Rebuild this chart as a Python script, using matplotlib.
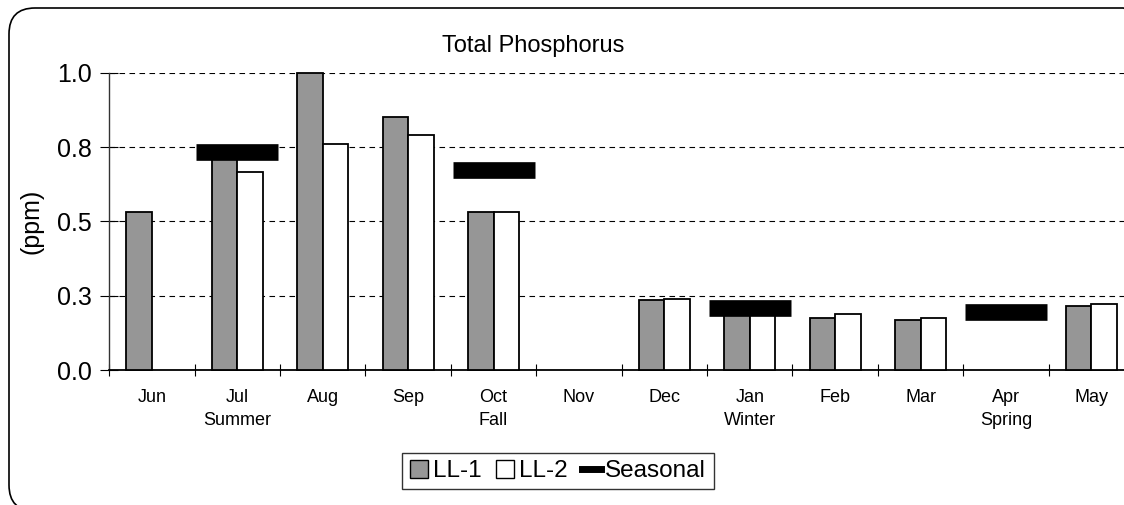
import numpy as np
import matplotlib
matplotlib.use("Agg")
import matplotlib.pyplot as plt
from matplotlib.patches import Patch, FancyBboxPatch
from matplotlib.lines import Line2D
from matplotlib.transforms import IdentityTransform

plt.rcParams['font.family'] = ['Liberation Sans', 'DejaVu Sans']

# --- data ---
months = ['Jun', 'Jul', 'Aug', 'Sep', 'Oct', 'Nov', 'Dec', 'Jan', 'Feb', 'Mar', 'Apr', 'May']
seasons = ['', 'Summer', '', '', 'Fall', '', '', 'Winter', '', '', 'Spring', '']
ll1 = [0.53, 0.75, 1.00, 0.85, 0.53, np.nan, 0.235, 0.20, 0.175, 0.168, np.nan, 0.215]
ll2 = [np.nan, 0.665, 0.76, 0.79, 0.53, np.nan, 0.24, 0.20, 0.19, 0.175, np.nan, 0.222]
seasonal = [np.nan, 0.733, np.nan, np.nan, 0.672, np.nan, np.nan, 0.207, np.nan, np.nan, 0.194, np.nan]
yticks = [0.0, 0.25, 0.5, 0.75, 1.0]
ytick_labels = ['0.0', '0.3', '0.5', '0.8', '1.0']

W, H = 1124, 505
fig = plt.figure(figsize=(W / 100, H / 100), dpi=100)
# plot area runs past the right edge, like the cropped original
ax = fig.add_axes([109.3 / W, 1 - 370 / H, 1024.7 / W, 297.3 / H])

x = np.arange(len(months))
ax.bar(x - 0.15, ll1, width=0.3, color='#969696', edgecolor='black', linewidth=1.3, zorder=3, clip_on=False)
ax.bar(x + 0.15, ll2, width=0.3, color='white', edgecolor='black', linewidth=1.3, zorder=3, clip_on=False)
ax.hlines(seasonal, x - 0.48, x + 0.48, color='black', linewidth=12, zorder=4)

ax.set_xlim(-0.5, len(months) - 0.5)
ax.set_ylim(0, 1.0)

ax.set_yticks(yticks)
ax.set_yticklabels(ytick_labels, fontsize=18)
ax.tick_params(axis='y', direction='inout', length=13, width=0.8, pad=6)
ax.grid(axis='y', color='black', linestyle=(0, (5, 4)), linewidth=0.8, zorder=1)

# category boundaries as major ticks, labels on minor ticks
ax.set_xticks(np.arange(-0.5, len(months), 1.0))
ax.set_xticklabels([])
ax.tick_params(axis='x', which='major', direction='inout', length=9, width=0.8)
ax.set_xticks(x, minor=True)
ax.set_xticklabels([m if not s else m + '\n' + s for m, s in zip(months, seasons)],
                   minor=True, fontsize=13, linespacing=1.45)
ax.tick_params(axis='x', which='minor', length=0, pad=14)

for side in ['top', 'right']:
    ax.spines[side].set_visible(False)
ax.spines['left'].set_color('#333333')
ax.spines['left'].set_linewidth(1.0)
ax.spines['bottom'].set_linewidth(1.3)

ax.set_ylabel('(ppm)', fontsize=18)
ax.yaxis.set_label_coords(-0.0645, 0.5)

fig.text(533 / W, 1 - 46 / H, 'Total Phosphorus', fontsize=17, ha='center', va='center')

handles = [Patch(facecolor='#969696', edgecolor='black', linewidth=1.0),
           Patch(facecolor='white', edgecolor='black', linewidth=1.0),
           Line2D([], [], color='black', linewidth=5)]
leg = fig.legend(handles, ['LL-1', 'LL-2', 'Seasonal'], loc='center', bbox_to_anchor=(558 / W, 1 - 471 / H),
                 ncol=3, fontsize=17.5, frameon=True, fancybox=False, handlelength=0.75, handleheight=0.75,
                 handletextpad=0.2, columnspacing=0.6, borderpad=0.3, borderaxespad=0)
leg.get_frame().set_edgecolor('black')
leg.get_frame().set_linewidth(1.0)

# rounded chart-area border (bottom and right run off the picture)
border = FancyBboxPatch((9, -6), 1140, H - 8 + 6, boxstyle='round,pad=0,rounding_size=26',
                        transform=IdentityTransform(), facecolor='none', edgecolor='black', linewidth=1.2)
fig.add_artist(border)

fig.savefig('out.png', dpi=100)
